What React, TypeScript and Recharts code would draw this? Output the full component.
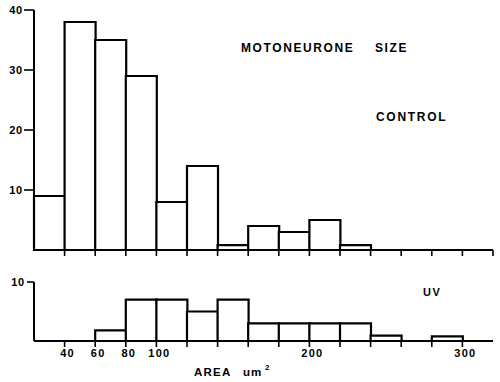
import React from 'react';
import { BarChart, Bar, XAxis, YAxis } from 'recharts';

const bins = ['20-40', '40-60', '60-80', '80-100', '100-120', '120-140', '140-160', '160-180', '180-200', '200-220', '220-240', '240-260', '260-280', '280-300', '300-320'];
const binMids = [30, 50, 70, 90, 110, 130, 150, 170, 190, 210, 230, 250, 270, 290, 310];
const controlCounts = [9, 38, 35, 29, 8, 14, 0.8, 4, 3, 5, 0.8, 0, 0, 0, 0];
const uvCounts = [0, 0, 1.8, 7, 7, 5, 7, 3, 3, 3, 3, 0.9, 0, 0.8, 0];
const controlBoundaryTicks = [40, 60, 80, 100, 120, 140, 160, 180, 200, 220, 240, 260, 280, 300, 320];
const uvBoundaryTicks = [40, 60, 80, 100, 120, 140, 160, 180, 200, 220, 240, 260, 280, 300];
const areaLabels = [40, 60, 80, 100, 200, 300];
const controlYTicks = [10, 20, 30, 40];
const uvYTicks = [10];

const data = bins.map((b, i) => ({ bin: b, mid: binMids[i], control: controlCounts[i], uv: uvCounts[i] }));

const FONT = '"Liberation Sans", Arial, Helvetica, sans-serif';
const axisLine = { stroke: '#000', strokeWidth: 2 };
const tickLine = { stroke: '#000', strokeWidth: 1.6 };

const EmptyTick = () => <g />;

const AreaTick = (props: any) => {
  const { x, y, payload } = props;
  if (!areaLabels.includes(payload.value)) return <g />;
  return (
    <text x={x + 3} y={y} dy="0.71em" textAnchor="middle" fill="#000" fontSize={11} fontWeight={700} fontFamily={FONT} letterSpacing={1.3}>
      {payload.value}
    </text>
  );
};

const YTick = (props: any) => {
  const { x, y, payload } = props;
  return (
    <text x={x} y={y} dy="0.355em" textAnchor="end" fill="#000" fontSize={11} fontWeight={700} fontFamily={FONT} letterSpacing={0.8}>
      {payload.value}
    </text>
  );
};

export default function App() {
  return (
    <div style={{ position: 'absolute', left: 0, top: 0, width: 500, height: 382, background: '#fff' }}>
      <div style={{ position: 'absolute', left: 0, top: 0 }}>
        <BarChart width={500} height={262} data={data} margin={{ top: 10, right: 7, left: 0, bottom: 0 }} barCategoryGap={0} barGap={0}>
          <XAxis xAxisId="cat" dataKey="bin" orientation="top" hide />
          <XAxis xAxisId="num" dataKey="mid" type="number" domain={[20, 320]} ticks={controlBoundaryTicks} interval={0} height={12} tickSize={6} axisLine={axisLine} tickLine={tickLine} tick={<EmptyTick />} />
          <YAxis domain={[0, 40]} ticks={controlYTicks} interval={0} width={34} tickSize={10} tickMargin={1} axisLine={axisLine} tickLine={tickLine} tick={<YTick />} />
          <Bar xAxisId="cat" dataKey="control" fill="#fff" stroke="#000" strokeWidth={2.2} isAnimationActive={false} />
        </BarChart>
      </div>
      <div style={{ position: 'absolute', left: 0, top: 270 }}>
        <BarChart width={500} height={101} data={data} margin={{ top: 12, right: 7, left: 0, bottom: 0 }} barCategoryGap={0} barGap={0}>
          <XAxis xAxisId="cat" dataKey="bin" orientation="top" hide />
          <XAxis xAxisId="num" dataKey="mid" type="number" domain={[20, 320]} ticks={uvBoundaryTicks} interval={0} height={30} tickSize={6} tickMargin={2} axisLine={axisLine} tickLine={tickLine} tick={<AreaTick />} />
          <YAxis domain={[0, 10]} ticks={uvYTicks} interval={0} width={34} tickSize={7} tickMargin={2} axisLine={axisLine} tickLine={tickLine} tick={<YTick />} />
          <Bar xAxisId="cat" dataKey="uv" fill="#fff" stroke="#000" strokeWidth={2.2} isAnimationActive={false} />
        </BarChart>
      </div>
      <svg width={500} height={382} style={{ position: 'absolute', left: 0, top: 0, pointerEvents: 'none' }}>
        <g fill="#000" fontWeight={700} fontFamily={FONT}>
          <text x={241} y={52} fontSize={12} letterSpacing={1.6}>MOTONEURONE</text>
          <text x={375} y={52} fontSize={12} letterSpacing={1.6}>SIZE</text>
          <text x={376} y={121} fontSize={12} letterSpacing={1.7}>CONTROL</text>
          <text x={423} y={296} fontSize={11} letterSpacing={1.5}>UV</text>
          <text x={194} y={376} fontSize={11.5} letterSpacing={1.2}>AREA</text>
          <text x={243} y={376} fontSize={11.5} letterSpacing={1}>um</text>
          <text x={265} y={370} fontSize={8}>2</text>
        </g>
      </svg>
    </div>
  );
}
